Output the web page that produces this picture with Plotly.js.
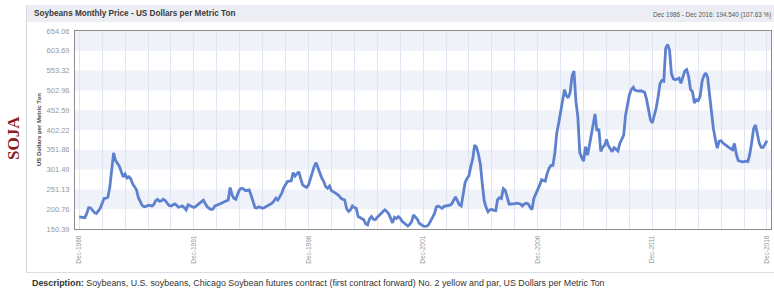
<!DOCTYPE html>
<html>
<head>
<meta charset="utf-8">
<script src="https://cdn.plot.ly/plotly-3.0.1.min.js"></script>
<style>
html,body{margin:0;padding:0;background:#fff;}
#chart{width:774px;height:290px;}
</style>
</head>
<body>
<div id="chart"></div>
<script>
// Monthly soybean price, US$/metric ton, Dec 1986 .. Dec 2016
var startYear = 1986, startMonth = 12;
var prices1986 = [181];
var prices1987 = [180,180,179,190,205,204,199,192,190,197,203,215];
var prices1988 = [228,229,231,256,300,344,325,318,310,296,283,290];
var prices1989 = [280,283,278,265,258,250,230,218,210,207,208,211];
var prices1990 = [210,209,212,222,226,221,222,226,223,215,210,209];
var prices1991 = [212,214,211,206,207,209,205,199,212,210,207,205];
var prices1992 = [208,212,216,220,224,215,207,203,200,201,209,211];
var prices1993 = [213,214,217,220,222,224,256,237,228,226,240,251];
var prices1994 = [254,252,248,249,250,236,220,205,204,207,205,203];
var prices1995 = [205,208,211,213,216,222,229,224,233,241,255,262];
var prices1996 = [271,272,273,294,285,291,296,277,262,259,256,262];
var prices1997 = [279,295,309,319,305,296,280,271,258,254,260,248];
var prices1998 = [245,243,239,235,229,226,224,202,195,199,209,205];
var prices1999 = [203,182,180,178,174,163,161,176,182,175,174,180];
var prices2000 = [184,190,195,199,195,189,178,166,180,177,182,178];
var prices2001 = [170,166,162,158,162,169,186,180,175,165,161,158];
var prices2002 = [157,158,162,170,180,190,207,209,205,203,208,209];
var prices2003 = [210,211,214,225,232,222,212,209,245,268,279,286];
var prices2004 = [310,330,364,358,340,315,265,222,205,194,199,200];
var prices2005 = [198,197,225,230,228,253,249,232,214,214,214,215];
var prices2006 = [216,215,214,209,214,216,214,206,200,228,240,247];
var prices2007 = [262,276,274,272,292,305,312,312,345,395,420,450];
var prices2008 = [470,505,490,484,498,540,552,475,435,345,332,323];
var prices2009 = [360,338,360,388,420,443,400,405,348,358,363,378];
var prices2010 = [362,355,347,357,352,349,368,378,389,440,470,492];
var prices2011 = [505,511,503,501,501,502,500,498,480,450,428,420];
var prices2012 = [438,458,485,520,528,526,610,620,605,545,532,530];
var prices2013 = [532,534,521,540,552,556,539,505,500,471,479,477];
var prices2014 = [488,526,540,547,536,490,440,405,378,356,374,375];
var prices2015 = [369,366,362,358,355,352,368,340,324,322,321,322];
var prices2016 = [323,322,340,370,405,415,392,368,358,358,366,375];

var yTicks = [150.39,200.76,251.13,301.49,351.86,402.22,452.59,502.96,553.32,603.69,654.06];
var xTickYears = [1986,1987,1988,1989,1990,1991,1992,1993,1994,1995,1996,1997,1998,1999,2000,2001,2002,2003,2004,2005,2006,2007,2008,2009,2010,2011,2012,2013,2014,2015,2016];
var labelYears = [1986,1991,1996,2001,2006,2011,2016];

var prices = [].concat(prices1986,prices1987,prices1988,prices1989,prices1990,prices1991,prices1992,
  prices1993,prices1994,prices1995,prices1996,prices1997,prices1998,prices1999,prices2000,prices2001,
  prices2002,prices2003,prices2004,prices2005,prices2006,prices2007,prices2008,prices2009,prices2010,
  prices2011,prices2012,prices2013,prices2014,prices2015,prices2016);

function pad(n){return (n<10?'0':'')+n;}
var dates = [];
for (var i=0;i<prices.length;i++){
  var mi = startMonth-1+i;
  var y = startYear + Math.floor(mi/12);
  var m = (mi%12)+1;
  dates.push(y+'-'+pad(m)+'-01');
}
var tickvals = xTickYears.map(function(y){return y+'-12-01';});
var ticktext = xTickYears.map(function(y){return labelYears.indexOf(y)>=0 ? 'Dec-'+y : '';});

// plot area in pixels
var L=75, R=771, T=31, B=229, W=774, H=290;
function px(x){return (x-L)/(R-L);}
function py(y){return (B-y)/(B-T);}

var shapes = [];
shapes.push({type:'rect',xref:'paper',yref:'paper',x0:px(26),x1:px(774),y0:py(22),y1:py(5),
  fillcolor:'#eceef3',line:{width:0},layer:'below'});
shapes.push({type:'line',xref:'paper',yref:'paper',x0:px(26.5),x1:px(26.5),y0:py(272),y1:py(5),
  line:{color:'#d6d8dd',width:1}});
shapes.push({type:'line',xref:'paper',yref:'paper',x0:px(26),x1:px(774),y0:py(272.5),y1:py(272.5),
  line:{color:'#dcdde2',width:1}});
for (var k=1;k<yTicks.length-1;k+=2){
  shapes.push({type:'rect',xref:'paper',yref:'y',x0:0,x1:1,y0:yTicks[k],y1:yTicks[k+1],
    fillcolor:'#f0f2f9',line:{width:0},layer:'below'});
}

var annotations = [
  {text:'<b>Soybeans Monthly Price - US Dollars per Metric Ton</b>',xref:'paper',yref:'paper',
   x:px(32),y:py(13.5),xanchor:'left',yanchor:'middle',showarrow:false,
   font:{family:'Arial, Liberation Sans, sans-serif',size:8.2,color:'#3a3a3a'}},
  {text:'Dec 1986 - Dec 2016: 194.540 (107.63 %)',xref:'paper',yref:'paper',
   x:px(773),y:py(14.5),xanchor:'right',yanchor:'middle',showarrow:false,
   font:{family:'Arial, Liberation Sans, sans-serif',size:6.3,color:'#555'}},
  {text:'<b>SOJA</b>',xref:'paper',yref:'paper',x:px(13),y:py(138),xanchor:'center',yanchor:'middle',
   textangle:-90,showarrow:false,
   font:{family:'Liberation Serif, Times New Roman, serif',size:17,color:'#8e1b1b'}},
  {text:'<b>US Dollars per Metric Ton</b>',xref:'paper',yref:'paper',x:px(39),y:py(130),
   xanchor:'center',yanchor:'middle',textangle:-90,showarrow:false,
   font:{family:'Arial, Liberation Sans, sans-serif',size:6,color:'#444'}},
  {text:'<b>Description:</b> Soybeans, U.S. soybeans, Chicago Soybean futures contract (first contract forward) No. 2 yellow and par, US Dollars per Metric Ton',
   xref:'paper',yref:'paper',x:px(30),y:py(283),xanchor:'left',yanchor:'middle',showarrow:false,
   font:{family:'Arial, Liberation Sans, sans-serif',size:8.9,color:'#333'}}
];

var trace = {
  x: dates, y: prices, type:'scatter', mode:'lines',
  line:{color:'#5d80cf',width:2.8,shape:'linear'},
  hoverinfo:'x+y'
};

var layout = {
  width:W, height:H,
  margin:{l:L,r:W-R,t:T,b:H-B,pad:0},
  paper_bgcolor:'#ffffff', plot_bgcolor:'rgba(0,0,0,0)',
  showlegend:false,
  xaxis:{
    type:'date', range:['1986-09-25','2017-02-03'],
    tickmode:'array', tickvals:tickvals, ticktext:ticktext,
    tickangle:-90, ticks:'', ticklabelstandoff:3,
    tickfont:{family:'Arial, Liberation Sans, sans-serif',size:6.5,color:'#999'},
    showgrid:true, gridcolor:'#dfe5f2', gridwidth:1,
    showline:true, mirror:true, linecolor:'#8c8c8c', linewidth:1,
    zeroline:false, fixedrange:true
  },
  yaxis:{
    range:[yTicks[0], yTicks[yTicks.length-1]],
    tickmode:'array', tickvals:yTicks, ticktext:yTicks.map(function(v){return v.toFixed(2);}),
    ticks:'', ticklabelstandoff:3,
    tickfont:{family:'Arial, Liberation Sans, sans-serif',size:7.5,color:'#999'},
    showgrid:false,
    showline:true, mirror:true, linecolor:'#8c8c8c', linewidth:1,
    zeroline:false, fixedrange:true
  },
  shapes:shapes,
  annotations:annotations
};

Plotly.newPlot('chart',[trace],layout,{staticPlot:true,displayModeBar:false});
</script>
</body>
</html>
